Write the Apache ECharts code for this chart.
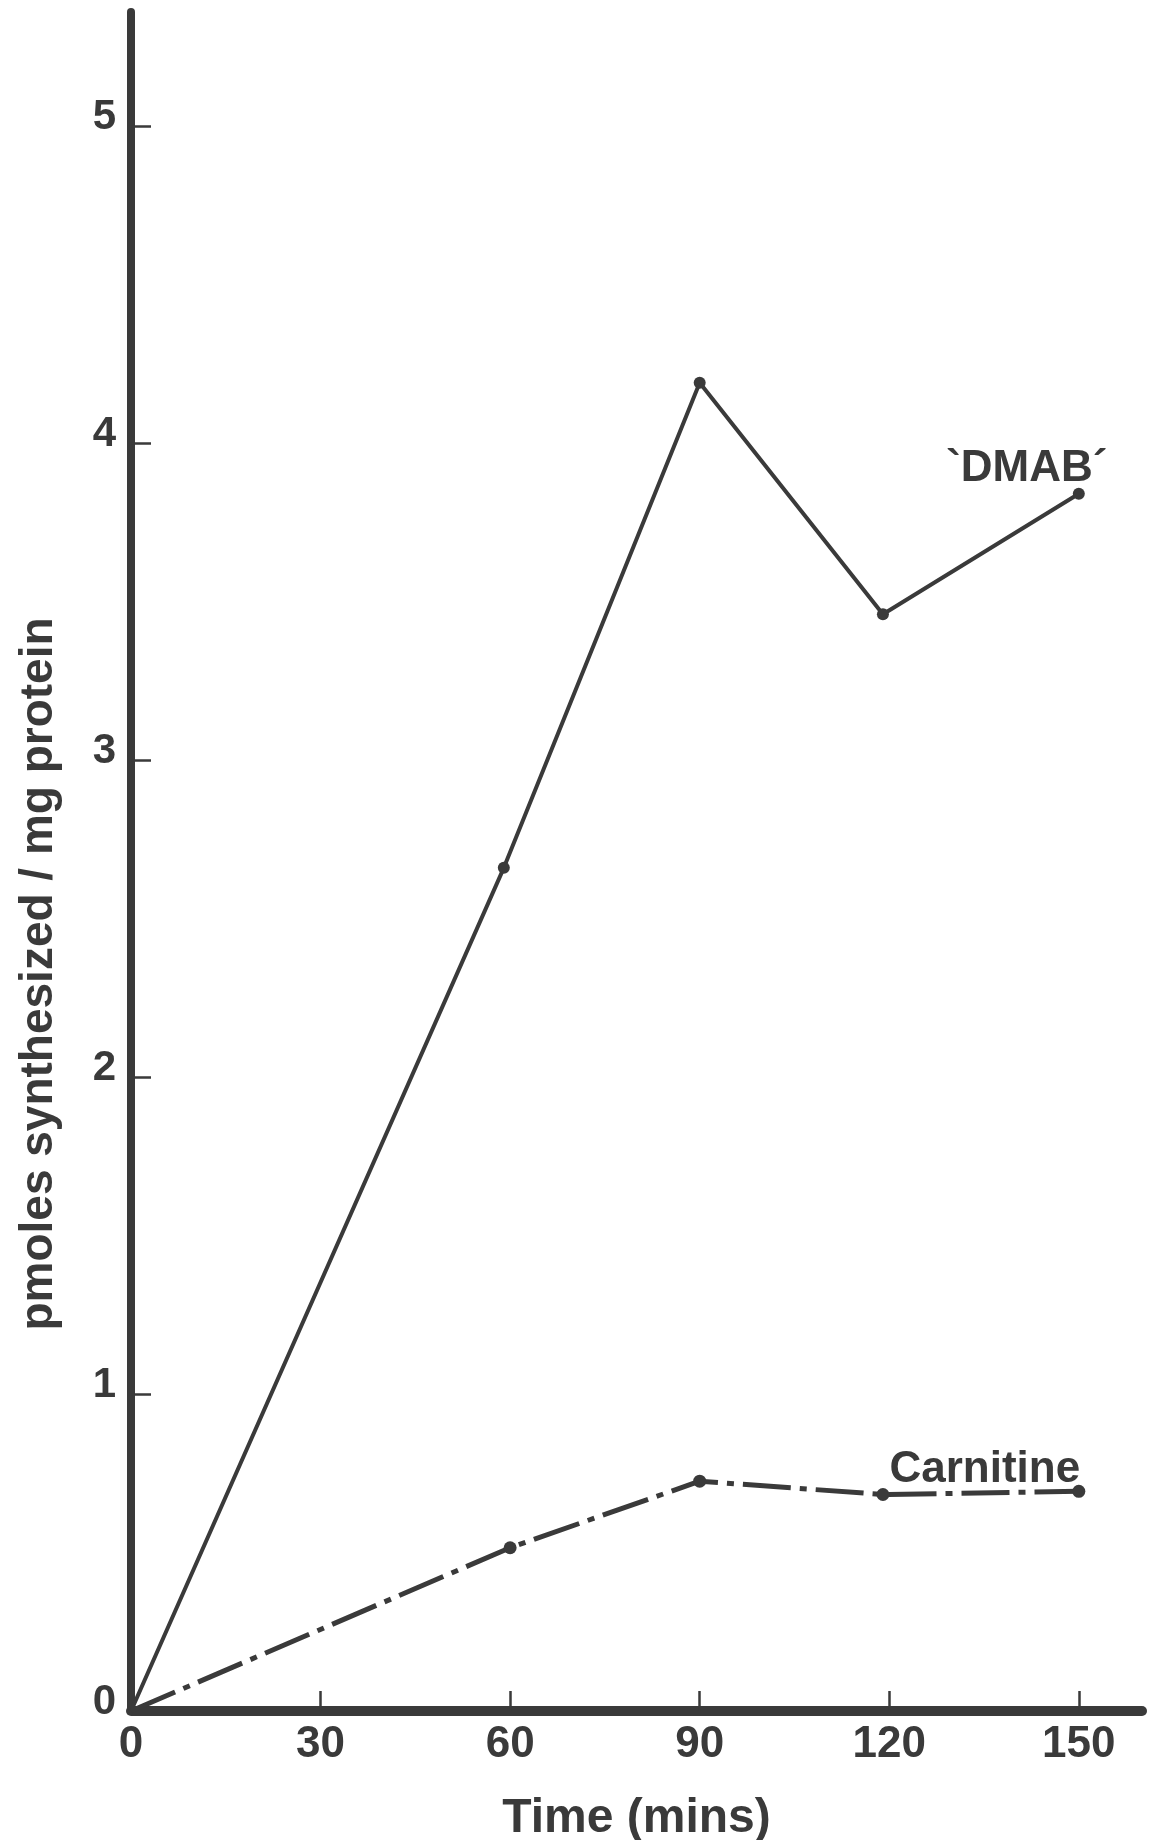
<!DOCTYPE html>
<html>
<head>
<meta charset="utf-8">
<script src="https://cdn.jsdelivr.net/npm/echarts@6/dist/echarts.min.js"></script>
<style>
html,body{margin:0;padding:0;background:#fff;}
#c{width:1152px;height:1840px;}
</style>
</head>
<body>
<div id="c"></div>
<script>
// ---- data ----
var dmabTimes = [0, 59, 90, 119, 150];
var dmabValues = [0, 2.66, 4.19, 3.46, 3.84];
var carnTimes = [0, 60, 90, 119, 150];
var carnValues = [0, 0.515, 0.725, 0.683, 0.693];
var xTickLabels = [0, 30, 60, 90, 120, 150];
var xTickMarks = [30, 60, 90, 120, 150];
var yTickLabels = [0, 1, 2, 3, 4, 5];
var yTickMarks = [1, 2, 3, 4, 5];
var dmabName = '`DMAB´';
var carnName = 'Carnitine';
var xTitle = 'Time (mins)';
var yTitle = 'pmoles synthesized / mg protein';

var ink = '#3a3a3a';
var boldSans = '"Liberation Sans", Arial, sans-serif';

function pairs(xs, ys) {
  return xs.map(function (x, i) { return [x, ys[i]]; });
}

var chart = echarts.init(document.getElementById('c'), null, {renderer: 'canvas'});

function series(name, xs, ys, lineStyle, symSize, labelOffset) {
  var d = pairs(xs, ys).map(function (p, i) {
    var item = {value: p};
    if (i === 0) item.symbolSize = 0;
    if (i === xs.length - 1) {
      item.label = {
        show: true,
        formatter: name,
        position: 'top',
        offset: labelOffset,
        color: ink,
        fontFamily: boldSans,
        fontWeight: 'bold',
        fontSize: 44
      };
    }
    return item;
  });
  return {
    type: 'line',
    name: name,
    data: d,
    symbol: 'circle',
    symbolSize: symSize,
    showSymbol: true,
    itemStyle: {color: ink},
    lineStyle: lineStyle,
    label: {show: false},
    z: 3,
    animation: false
  };
}

var option = {
  backgroundColor: '#fff',
  animation: false,
  grid: {left: 131, right: 10, top: 12, bottom: 129, containLabel: false, outerBoundsMode: 'none'},
  xAxis: {
    type: 'value',
    min: 0,
    max: 160,
    interval: 30,
    name: xTitle,
    nameLocation: 'middle',
    nameGap: 84,
    nameTextStyle: {color: ink, fontFamily: boldSans, fontWeight: 'bold', fontSize: 48},
    axisLine: {show: true, onZero: false, lineStyle: {color: ink, width: 10}},
    axisTick: {show: true, inside: true, length: 20, lineStyle: {color: ink, width: 2.5}, customValues: xTickMarks},
    axisLabel: {
      show: true, margin: 12, color: ink, fontFamily: boldSans, fontWeight: 'bold', fontSize: 44,
      customValues: xTickLabels
    },
    splitLine: {show: false}
  },
  yAxis: {
    type: 'value',
    min: 0,
    max: 5.36,
    interval: 1,
    axisLine: {show: true, onZero: false, lineStyle: {color: ink, width: 8}},
    axisTick: {show: true, inside: true, length: 20, lineStyle: {color: ink, width: 2.5}, customValues: yTickMarks},
    axisLabel: {
      show: true, margin: 15, color: ink, fontFamily: boldSans, fontWeight: 'bold', fontSize: 42,
      verticalAlign: 'bottom', lineHeight: 18,
      customValues: yTickLabels
    },
    splitLine: {show: false}
  },
  graphic: [{
    type: 'text',
    x: 39,
    y: 974,
    rotation: Math.PI / 2,
    style: {
      text: yTitle,
      fill: ink,
      font: 'bold 46px ' + boldSans,
      align: 'center',
      verticalAlign: 'middle'
    }
  }],
  series: [
    series(dmabName, dmabTimes, dmabValues, {color: ink, width: 4, type: 'solid'}, 12, [-52, 8]),
    series(carnName, carnTimes, carnValues, {color: ink, width: 5, type: [48, 9, 7, 9], cap: 'butt'}, 13, [-94, 12])
  ]
};
chart.setOption(option);
</script>
</body>
</html>
